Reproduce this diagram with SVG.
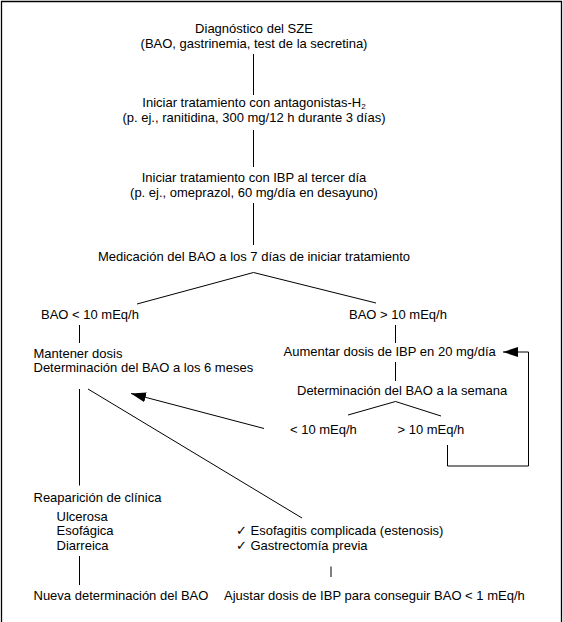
<svg xmlns="http://www.w3.org/2000/svg" width="563" height="622" viewBox="0 0 563 622">
<style>
  text { font-family: "Liberation Sans", Arial, "DejaVu Sans", sans-serif; font-size: 13px; fill: #000; }
  .c { text-anchor: middle; }
  .ln { stroke: #000; stroke-width: 1; fill: none; }
</style>
<defs>
  <marker id="ah" viewBox="0 0 15 10" refX="15" refY="5" markerWidth="15" markerHeight="10" markerUnits="userSpaceOnUse" orient="auto">
    <path d="M0,0 L15,5 L0,10 z" fill="#000"/>
  </marker>
</defs>
<rect x="0" y="0" width="563" height="622" fill="#fff"/>
<path d="M1.5,630 V1.5 H561.5 V630" fill="none" stroke="#000" stroke-width="1.3"/>

<g id="connectors">
  <line class="ln" x1="253.5" y1="54" x2="253.5" y2="95"/>
  <line class="ln" x1="253.5" y1="130" x2="253.5" y2="167"/>
  <line class="ln" x1="253.5" y1="203" x2="253.5" y2="245"/>
  <line class="ln" x1="253.5" y1="272.5" x2="137" y2="304"/>
  <line class="ln" x1="253.5" y1="272.5" x2="376" y2="303"/>
  <line class="ln" x1="79.5" y1="325" x2="79.5" y2="343"/>
  <line class="ln" x1="395.5" y1="325" x2="395.5" y2="343"/>
  <line class="ln" x1="395.5" y1="362" x2="395.5" y2="381"/>
  <line class="ln" x1="395.5" y1="401.5" x2="348" y2="415"/>
  <line class="ln" x1="395.5" y1="401.5" x2="441" y2="416"/>
  <line class="ln" x1="79.5" y1="389" x2="79.5" y2="485.5"/>
  <line class="ln" x1="79.5" y1="556" x2="79.5" y2="585"/>
  <line class="ln" x1="331" y1="566.5" x2="331" y2="577"/>
  <line class="ln" x1="88" y1="389" x2="302" y2="518"/>
  <line class="ln" x1="264" y1="428.5" x2="131" y2="393.5" marker-end="url(#ah)"/>
  <polyline class="ln" points="447.5,445 447.5,466 528.5,466 528.5,352 503,352" marker-end="url(#ah)"/>
</g>

<g id="n-diagnostico">
  <text class="c" x="254" y="32.5">Diagnóstico del SZE</text>
  <text class="c" x="254" y="47.5">(BAO, gastrinemia, test de la secretina)</text>
</g>
<g id="n-antagonistas">
  <text class="c" x="254" y="107">Iniciar tratamiento con antagonistas-H<tspan font-size="8" dy="1.5">2</tspan></text>
  <text class="c" x="254" y="122">(p. ej., ranitidina, 300 mg/12 h durante 3 días)</text>
</g>
<g id="n-ibp">
  <text class="c" x="254" y="181.5">Iniciar tratamiento con IBP al tercer día</text>
  <text class="c" x="254" y="196.5">(p. ej., omeprazol, 60 mg/día en desayuno)</text>
</g>
<g id="n-medicacion">
  <text class="c" x="254" y="260.5">Medicación del BAO a los 7 días de iniciar tratamiento</text>
</g>
<g id="n-bao-menor">
  <text x="41" y="318.5">BAO &lt; 10 mEq/h</text>
</g>
<g id="n-bao-mayor">
  <text x="349" y="318.5">BAO &gt; 10 mEq/h</text>
</g>
<g id="n-mantener">
  <text x="33.5" y="357.5">Mantener dosis</text>
  <text x="33.5" y="372">Determinación del BAO a los 6 meses</text>
</g>
<g id="n-aumentar">
  <text x="283.5" y="356">Aumentar dosis de IBP en 20 mg/día</text>
</g>
<g id="n-semana">
  <text x="297" y="395">Determinación del BAO a la semana</text>
</g>
<g id="n-menor10">
  <text x="290" y="433.5">&lt; 10 mEq/h</text>
</g>
<g id="n-mayor10">
  <text x="397.5" y="433.5">&gt; 10 mEq/h</text>
</g>
<g id="n-reaparicion">
  <text x="33.5" y="501.5">Reaparición de clínica</text>
  <text x="56.5" y="520.5">Ulcerosa</text>
  <text x="56.5" y="535">Esofágica</text>
  <text x="56.5" y="549.5">Diarreica</text>
</g>
<g id="n-nueva">
  <text x="33.5" y="600">Nueva determinación del BAO</text>
</g>
<g id="n-esofagitis">
  <text x="236" y="535">✓ Esofagitis complicada (estenosis)</text>
  <text x="236" y="550">✓ Gastrectomía previa</text>
</g>
<g id="n-ajustar">
  <text x="224" y="600">Ajustar dosis de IBP para conseguir BAO &lt; 1 mEq/h</text>
</g>
</svg>
